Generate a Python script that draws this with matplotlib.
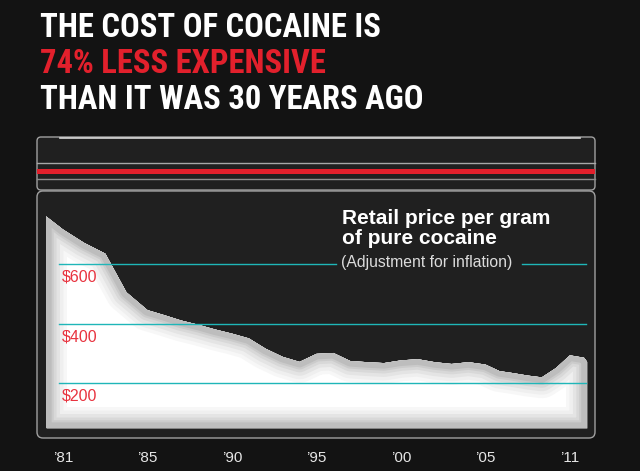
import numpy as np
import matplotlib
matplotlib.use("Agg")
import matplotlib.pyplot as plt
from matplotlib.patches import FancyBboxPatch, PathPatch, Rectangle

# colours
BG = "#131313"
BAG = "#202020"
EDGE = "#a0a0a0"
RED = "#e2202c"
LABEL_RED = "#e8333f"
TEAL = "#1fb6b8"

plt.rcParams.update({
    "font.family": ["Liberation Sans", "DejaVu Sans"],
})

# data (price per gram, inflation adjusted)
years = [1980.2, 1981, 1982, 1983, 1984, 1985, 1986, 1987, 1988, 1989, 1990,
         1991, 1992, 1993, 1994, 1995, 1996, 1997, 1998, 1999, 2000,
         2001, 2002, 2003, 2004, 2005, 2006, 2007, 2008, 2009, 2010,
         2011, 2012, 2012.2]
prices = [760, 716, 671, 635, 505, 445, 428, 410, 396, 380, 366,
          350, 315, 288, 271, 298, 301, 274, 270, 267, 276,
          280, 270, 264, 270, 262, 240, 233, 225, 219, 250,
          293, 285, 272]
base_value = 49

tick_years = [1981, 1985, 1990, 1995, 2000, 2005, 2011]
tick_labels = ["\u201981", "\u201985", "\u201990", "\u201995", "\u201900", "\u201905", "\u201911"]
grid_values = [600, 400, 200]
grid_labels = ["$600", "$400", "$200"]

title_lines = ["THE COST OF COCAINE IS", "74% LESS EXPENSIVE", "THAN IT WAS 30 YEARS AGO"]
title_colors = ["white", RED, "white"]

W, H = 640, 471
fig = plt.figure(figsize=(W / 100, H / 100), dpi=100, facecolor=BG)

# background axes in pixel coordinates for the bag drawing
bg = fig.add_axes([0, 0, 1, 1])
bg.set_xlim(0, W)
bg.set_ylim(H, 0)
bg.axis("off")
bg.add_patch(Rectangle((0, 0), W, H, color=BG, zorder=0))

# zip top of the bag
bg.add_patch(FancyBboxPatch((37, 137), 558, 53, boxstyle="round,pad=0,rounding_size=4",
                            fc=BAG, ec=EDGE, lw=1, zorder=1))
bg.plot([60, 580], [138, 138], color="#d8d8d8", lw=1.2, zorder=2)
bg.plot([37, 595], [163, 163], color="#a8a8a8", lw=1, zorder=2)
bg.add_patch(Rectangle((37, 168.5), 558, 5.5, color=RED, lw=0, zorder=2))
bg.plot([37, 595], [179, 179], color="#8c8c8c", lw=1, zorder=2)

# bag body
bg.add_patch(FancyBboxPatch((37, 191), 558, 247, boxstyle="round,pad=0,rounding_size=6",
                            fc=BAG, ec=EDGE, lw=1, zorder=1))

# titles
for i, (line, col) in enumerate(zip(title_lines, title_colors)):
    fig.text(40 / W, 1 - (37 + 36 * i) / H, line, color=col, fontsize=23.5,
             fontweight="bold", va="baseline", ha="left",
             family=["Roboto Condensed", "Liberation Sans"])

fig.text(342 / W, 1 - 209 / H, "Retail price per gram\nof pure cocaine", color="white",
         fontsize=15, fontweight="bold", va="top", ha="left", linespacing=1.05)
fig.text(341 / W, 1 - 263 / H, "(Adjustment for inflation)", color="#dcdcdc",
         fontsize=11.3, va="center", ha="left")

# chart axes laid over the bag
ax = fig.add_axes([37 / W, 1 - 438 / H, 558 / W, 248 / H])
ax.patch.set_alpha(0)
for s in ax.spines.values():
    s.set_visible(False)

anchor_years = [1975] + tick_years + [2017]
anchor_slots = [-1.5, 0, 1, 2, 3, 4, 5, 6, 7]


def forward(x):
    return np.interp(x, anchor_years, anchor_slots)


def inverse(x):
    return np.interp(x, anchor_slots, anchor_years)


ax.set_xscale("function", functions=(forward, inverse))
ax.set_xlim(1979.77, 2012.78)
ax.set_ylim(15.2, 848.7)

# white area with a soft grey rim inside the edge
area = ax.fill_between(years, prices, base_value, color="white", lw=0, zorder=2)
area_path = area.get_paths()[0]
rim = [(30, "#f7f7f7"), (25, "#efefef"), (20, "#e4e4e4"), (15, "#d8d8d8"),
       (11, "#cbcbcb"), (8, "#bdbdbd")]
for lw, col in rim:
    p = PathPatch(area_path, fc="none", ec=col, lw=lw, joinstyle="round",
                  transform=ax.transData, zorder=3)
    ax.add_patch(p)
    p.set_clip_path(area_path, ax.transData)

x0, x1 = (59 - 37) / 558, (586 - 37) / 558
for v, lab in zip(grid_values, grid_labels):
    if v == 600:
        ax.axhline(v, xmin=x0, xmax=(336 - 37) / 558, color=TEAL, lw=1, zorder=4)
        ax.axhline(v, xmin=(522 - 37) / 558, xmax=x1, color=TEAL, lw=1, zorder=4)
    else:
        ax.axhline(v, xmin=x0, xmax=x1, color=TEAL, lw=1, zorder=4)
    ax.annotate(lab, xy=((62 - 37) / 558, v), xycoords=("axes fraction", "data"),
                xytext=(0, -13), textcoords="offset pixels", color=LABEL_RED,
                fontsize=11.5, va="center", ha="left", zorder=5)

ax.set_yticks([])
ax.set_xticks(tick_years)
ax.set_xticklabels(tick_labels)
ax.xaxis.set_minor_locator(matplotlib.ticker.NullLocator())
ax.tick_params(axis="x", length=0, pad=9, labelcolor="#e6e6e6", labelsize=11)

fig.savefig("out.png", dpi=100, facecolor=BG)
